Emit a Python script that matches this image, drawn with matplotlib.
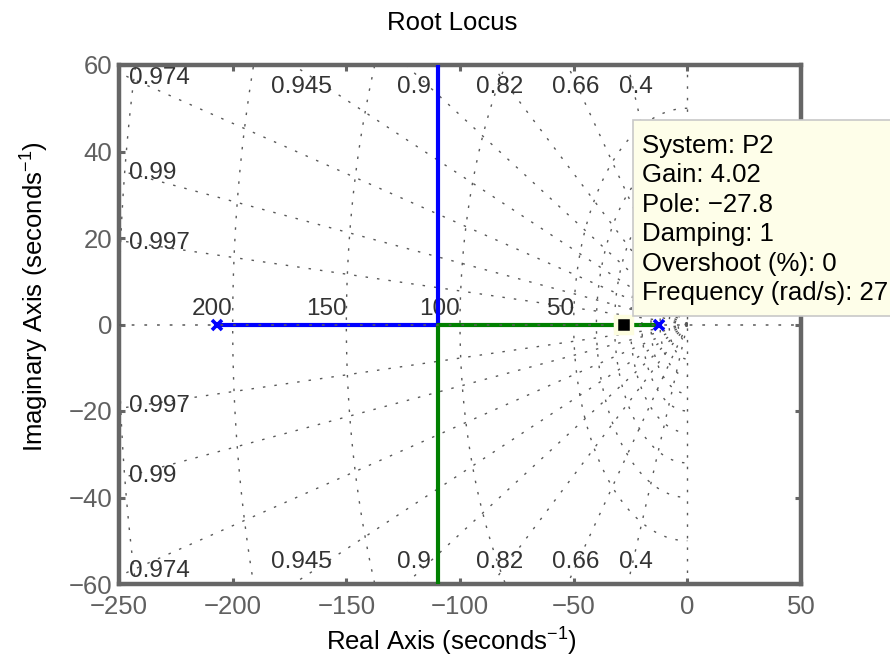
import numpy as np
import matplotlib
matplotlib.use("Agg")
import matplotlib.pyplot as plt
from matplotlib.patches import Rectangle

# s-plane grid: damping rays and natural-frequency circles
damping = [0.4, 0.66, 0.82, 0.9, 0.945, 0.974, 0.99, 0.997]
wn_labeled = [50, 100, 150, 200, 250]
wn_small = [4, 8, 12, 16, 20, 25, 32, 40]

# open-loop poles and the two locus branches
poles = [-207.0, -12.6]
branch1_re = [-207.0, -109.8, -109.8]
branch1_im = [0.0, 0.0, 80.0]
branch2_re = [-12.6, -109.8, -109.8]
branch2_im = [0.0, 0.0, -80.0]

# selected point (data tip)
sel_system = "P2"
sel_gain = 4.02
sel_pole = -27.8
sel_damping = 1
sel_overshoot = 0
sel_freq = 27.8

plt.rcParams["font.family"] = ["Liberation Sans", "DejaVu Sans"]
plt.rcParams["mathtext.fontset"] = "custom"
plt.rcParams["mathtext.rm"] = "Liberation Sans"
plt.rcParams["mathtext.it"] = "Liberation Sans:italic"

FS = 18.5
GRID_C = "0.35"
GRID_LS = (0, (1.8, 6.5))
FRAME_C = "#666666"

fig = plt.figure(figsize=(8.9, 6.6), dpi=100)
ax = fig.add_axes([119/890, 1-584/660, 682/890, 519/660])
xmin, xmax, ymin, ymax = -250, 50, -60, 60

def minus(s):
    return s.replace("-", "\u2212")

# natural frequency circles (left half plane only)
th = np.linspace(np.pi/2, 3*np.pi/2, 400)
for r in wn_small + wn_labeled:
    ax.plot(r*np.cos(th), r*np.sin(th), color=GRID_C, lw=1.0, ls=GRID_LS, zorder=1)
for r in wn_labeled[:-1]:
    ax.text(-r, 1.0, str(r), ha="right", va="bottom", fontsize=FS-1, color="#333333", zorder=2)

# constant damping rays
for z in damping:
    s = np.sqrt(1 - z**2)
    for sgn in (1, -1):
        ax.plot([0, -400*z], [0, sgn*400*s], color=GRID_C, lw=1.0, ls=GRID_LS, zorder=1)
    y_left = -xmin*s/z  # where the ray meets the left edge
    if y_left < ymax:
        yl = min(y_left - 0.5, 57.0)
        for sgn in (1, -1):
            ax.text(xmin + 4.2, sgn*yl, str(z), ha="left", va="center",
                    fontsize=FS-1, color="#333333", zorder=2)
    else:
        xt = -ymax*z/s + 3.5
        for sgn in (1, -1):
            ax.text(xt, sgn*54.9, str(z), ha="center", va="center",
                    fontsize=FS-1, color="#333333", zorder=2)

ax.axvline(0, color=GRID_C, lw=1.0, ls=GRID_LS, zorder=1)

# root locus branches
ax.plot(branch1_re, branch1_im, color="#0000ff", lw=3, zorder=3, solid_capstyle="butt")
ax.plot(branch2_re, branch2_im, color="#008000", lw=3, zorder=3, solid_capstyle="butt")
ax.axhline(0, color=GRID_C, lw=1.1, ls=GRID_LS, zorder=4)
ax.plot(poles, [0]*len(poles), ls="none", marker="x", ms=7, mew=2.6, color="#0000ff", zorder=5)
ax.plot([sel_pole], [0], ls="none", marker="s", ms=11.9, mew=3.2,
        mfc="black", mec="#fdfde0", zorder=6)

ax.set_xlim(xmin, xmax)
ax.set_ylim(ymin, ymax)
ax.set_xticks(np.arange(-250, 51, 50))
ax.set_yticks(np.arange(-60, 61, 20))
ax.tick_params(direction="in", length=4, width=2.2, color=FRAME_C, labelcolor="#606060",
               labelsize=FS, top=True, right=True)
ax.tick_params(axis="x", pad=8)
ax.tick_params(axis="y", pad=5)
for sp in ax.spines.values():
    sp.set_color(FRAME_C)
    sp.set_linewidth(3.2)

ax.set_title("Root Locus", fontsize=FS, x=0.488, y=1 + (65-30)/519, pad=0)
ax.set_xlabel("Real Axis (seconds$^{-1}$)", fontsize=FS)
ax.xaxis.set_label_coords(0.488, -(642-584)/519)
ax.xaxis.label.set_va("center")
ax.set_ylabel("Imaginary Axis (seconds$^{-1}$)", fontsize=FS)
ax.yaxis.set_label_coords(-(119-35)/682, (584-297)/519)
ax.yaxis.label.set_va("center")

# data tip box
fig.patches.append(Rectangle((633/890, 1-316/660), 300/890, 196/660,
                             transform=fig.transFigure, facecolor="#fefee9",
                             edgecolor="#c8c8c8", lw=1.2, zorder=10))
tip = [f"System: {sel_system}",
       f"Gain: {sel_gain:.2f}",
       minus(f"Pole: {sel_pole:.1f}"),
       f"Damping: {sel_damping}",
       f"Overshoot (%): {sel_overshoot}",
       f"Frequency (rad/s): {sel_freq:.1f}"]
for i, line in enumerate(tip):
    fig.text(642/890, 1-(153 + 29.4*i)/660, line, fontsize=FS, color="black",
             ha="left", va="baseline", zorder=11)

fig.savefig("out.png", dpi=100, facecolor="white")
